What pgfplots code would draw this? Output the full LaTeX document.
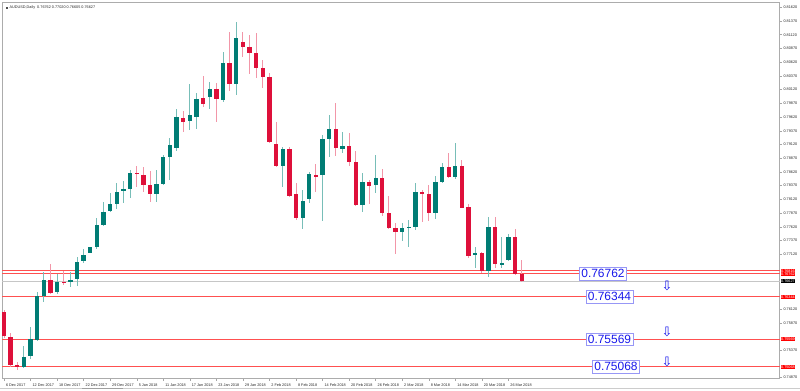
\documentclass[border=0pt]{standalone}
\usepackage{pgfplots}
\pgfplotsset{compat=1.18}
\usepackage{pgfplotstable}
\usepackage{fontspec}
\setmainfont{Liberation Sans}
\newfontfamily\dejavu{DejaVu Sans}

\definecolor{upbody}{RGB}{0,124,116}
\definecolor{dnbody}{RGB}{222,16,58}
\definecolor{upwick}{RGB}{120,190,184}
\definecolor{dnwick}{RGB}{242,150,168}
\definecolor{lvl}{RGB}{255,80,80}
\definecolor{boxblue}{RGB}{25,25,235}
\definecolor{boxedge}{RGB}{150,150,250}

\pgfplotstableread{
i o h l c
3 0.75068 0.75445 0.75039 0.75250
4 0.75263 0.75797 0.75203 0.75567
5 0.75555 0.76435 0.75542 0.76357
6 0.76357 0.76789 0.76253 0.76648
8 0.76424 0.76758 0.76393 0.76617
10 0.76606 0.76794 0.76515 0.76648
11 0.76661 0.77062 0.76539 0.76982
12 0.76995 0.77208 0.76964 0.77104
13 0.77146 0.77255 0.77135 0.77244
14 0.77244 0.77773 0.77219 0.77651
15 0.77651 0.78076 0.77633 0.77893
16 0.77912 0.78229 0.77893 0.78034
17 0.78034 0.78422 0.77937 0.78258
18 0.78271 0.78453 0.78057 0.78302
19 0.78307 0.78654 0.78138 0.78604
23 0.78211 0.78654 0.78076 0.78393
24 0.78393 0.78927 0.78380 0.78890
25 0.78890 0.79231 0.78471 0.79109
26 0.79049 0.79760 0.79000 0.79614
28 0.79547 0.80216 0.79383 0.79656
29 0.79625 0.80052 0.79401 0.79948
31 0.79990 0.80263 0.79765 0.80130
33 0.79929 0.80810 0.79888 0.80598
35 0.80216 0.81346 0.80021 0.81054
42 0.78732 0.79078 0.78338 0.79031
45 0.77773 0.78289 0.77578 0.78083
46 0.78125 0.78623 0.78047 0.78575
48 0.78562 0.79291 0.77724 0.79219
49 0.79219 0.79656 0.78885 0.79401
51 0.79036 0.79341 0.78958 0.79096
54 0.78016 0.78593 0.77893 0.78429
56 0.78380 0.78927 0.78240 0.78502
60 0.77529 0.77682 0.77365 0.77602
61 0.77596 0.77742 0.77244 0.77620
62 0.77620 0.78411 0.77560 0.78247
65 0.77864 0.78544 0.77755 0.78440
66 0.78440 0.78787 0.78411 0.78714
68 0.78531 0.79151 0.78484 0.78726
71 0.77117 0.77244 0.76862 0.77135
73 0.76818 0.77791 0.76709 0.77620
75 0.76935 0.77438 0.76862 0.76953
76 0.77013 0.77487 0.77000 0.77438
}\up

\pgfplotstableread{
i o h l c
0 0.76060 0.76102 0.75591 0.75628
1 0.75604 0.75688 0.75068 0.75099
2 0.75090 0.75159 0.75008 0.75081
7 0.76648 0.76935 0.76393 0.76406
9 0.76612 0.76818 0.76557 0.76599
20 0.78604 0.78732 0.78338 0.78593
21 0.78557 0.78714 0.78258 0.78375
22 0.78375 0.78635 0.78065 0.78211
27 0.79607 0.79729 0.79352 0.79534
30 0.79960 0.80367 0.79807 0.79851
32 0.80130 0.80234 0.79534 0.79948
34 0.80598 0.81174 0.80094 0.80216
36 0.80992 0.81163 0.80719 0.80890
37 0.80890 0.81114 0.80398 0.80781
38 0.80792 0.81145 0.80325 0.80507
39 0.80518 0.80659 0.80148 0.80343
40 0.80354 0.80416 0.79155 0.79169
41 0.79122 0.79523 0.78714 0.78732
43 0.79031 0.79067 0.78156 0.78180
44 0.78211 0.78422 0.77742 0.77773
47 0.78562 0.78757 0.78258 0.78544
50 0.79401 0.79869 0.78914 0.79049
52 0.79096 0.79322 0.78726 0.78794
53 0.78794 0.79005 0.78003 0.78016
55 0.78429 0.78471 0.78034 0.78367
57 0.78502 0.78666 0.77815 0.77864
58 0.77864 0.78180 0.77573 0.77591
59 0.77591 0.77682 0.77122 0.77518
63 0.78247 0.78289 0.77711 0.78211
64 0.78211 0.78380 0.77729 0.77864
67 0.78714 0.78958 0.78502 0.78531
69 0.78726 0.78836 0.77955 0.77966
70 0.77974 0.78034 0.77044 0.77086
72 0.77135 0.77164 0.76781 0.76818
74 0.77620 0.77802 0.76862 0.76940
77 0.77438 0.77573 0.76740 0.76758
78 0.76762 0.77020 0.76605 0.76627
}\down

\tikzset{
  bluebox/.style={draw=boxblue!45, line width=0.5bp, fill=white, text=boxblue,
    font=\fontsize{12}{12}\selectfont, inner xsep=2bp, inner ysep=2bp},
  tag/.style={anchor=west, text=white, font=\fontsize{3.8}{4}\selectfont,
    inner xsep=0.6bp, inner ysep=0.6bp, xshift=0.8bp},
  darr/.style={text=boxblue, font=\dejavu\fontsize{13}{13}\selectfont, inner sep=0pt}
}

\begin{document}
\begin{tikzpicture}
\useasboundingbox (-2bp,-12.5bp) rectangle (798bp,378.5bp);
\draw[gray!40, line width=0.8bp] (-2bp,-9.5bp) -- (798bp,-9.5bp);
\draw[gray!75, line width=0.8bp] (80bp,-9.5bp) -- (121bp,-9.5bp);
\begin{axis}[
  scale only axis, width=777.5bp, height=376.5bp,
  xmin=-0.301, xmax=116.85, ymin=0.74853, ymax=0.81716,
  clip=false,
  axis line style={gray!65, line width=0.7bp},
  tick align=outside, major tick length=2bp,
  tick style={gray!70, line width=0.4bp},
  xtick pos=lower, ytick pos=right,
  xtick={0,4,...,76},
  xticklabels={6 Dec 2017, 12 Dec 2017, 18 Dec 2017, 22 Dec 2017, 29 Dec 2017,
    5 Jan 2018, 11 Jan 2018, 17 Jan 2018, 23 Jan 2018, 29 Jan 2018,
    2 Feb 2018, 8 Feb 2018, 14 Feb 2018, 20 Feb 2018, 26 Feb 2018,
    2 Mar 2018, 8 Mar 2018, 14 Mar 2018, 20 Mar 2018, 26 Mar 2018},
  ytick={0.74870,0.75370,0.75870,0.76120,0.77120,0.77370,0.77620,0.77870,
    0.78120,0.78370,0.78620,0.78870,0.79120,0.79370,0.79620,0.79870,
    0.80120,0.80370,0.80620,0.80870,0.81120,0.81370,0.81620},
  scaled y ticks=false,
  /pgf/number format/fixed, /pgf/number format/fixed zerofill,
  /pgf/number format/precision=5, /pgf/number format/assume math mode=true,
  tick label style={font=\fontsize{3.8}{4}\selectfont, text=black!85},
  xticklabel style={anchor=north west, xshift=-1.5bp, yshift=0.3bp},
  yticklabel style={anchor=west, xshift=-1.5bp},
  candle/.style={draw=none, no markers, forget plot,
    error bars/.cd, y dir=both, y explicit, error mark=none},
]
% level lines
\addplot[lvl, line width=1.1bp, forget plot] coordinates {(-0.301,0.76816) (116.85,0.76816)};
\addplot[lvl, line width=1.1bp, forget plot] coordinates {(-0.301,0.76762) (116.85,0.76762)};
\addplot[lvl, line width=1.1bp, forget plot] coordinates {(-0.301,0.76344) (116.85,0.76344)};
\addplot[lvl, line width=1.1bp, forget plot] coordinates {(-0.301,0.75569) (116.85,0.75569)};
\addplot[lvl, line width=1.1bp, forget plot] coordinates {(-0.301,0.75068) (116.85,0.75068)};
\addplot[gray!45, line width=0.7bp, forget plot] coordinates {(-0.301,0.76627) (116.85,0.76627)};

% wicks
\addplot[candle, error bar style={draw=upwick, line width=0.9bp}]
  table[x=i, y expr={(\thisrow{h}+\thisrow{l})/2}, y error expr={(\thisrow{h}-\thisrow{l})/2}] {\up};
\addplot[candle, error bar style={draw=dnwick, line width=0.9bp}]
  table[x=i, y expr={(\thisrow{h}+\thisrow{l})/2}, y error expr={(\thisrow{h}-\thisrow{l})/2}] {\down};
% bodies
\addplot[candle, error bar style={draw=upbody, line width=4.3bp}]
  table[x=i, y expr={(\thisrow{o}+\thisrow{c})/2}, y error expr={max(abs(\thisrow{o}-\thisrow{c})/2,0.00009)}] {\up};
\addplot[candle, error bar style={draw=dnbody, line width=4.3bp}]
  table[x=i, y expr={(\thisrow{o}+\thisrow{c})/2}, y error expr={max(abs(\thisrow{o}-\thisrow{c})/2,0.00009)}] {\down};

% price tags on the right
\node[tag, fill=red] at (axis cs:116.85,0.76816) {0.76816};
\node[tag, fill=red] at (axis cs:116.85,0.76762) {0.76762};
\node[tag, fill=black] at (axis cs:116.85,0.76627) {0.76627};
\node[tag, fill=red] at (axis cs:116.85,0.76344) {0.76344};
\node[tag, fill=red] at (axis cs:116.85,0.75569) {0.75569};
\node[tag, fill=red] at (axis cs:116.85,0.75068) {0.75068};

% level boxes
\node[bluebox] at (axis cs:90.25,0.76762) {0.76762};
\node[bluebox] at (axis cs:91.23,0.76344) {0.76344};
\node[bluebox] at (axis cs:91.23,0.75569) {0.75569};
\node[bluebox] at (axis cs:92.21,0.75068) {0.75068};

% arrows
\node[darr] at (axis cs:99.9,0.76548) {⇩};
\node[darr] at (axis cs:99.9,0.75710) {⇩};
\node[darr] at (axis cs:99.9,0.75163) {⇩};

% title
\node[anchor=west, font=\fontsize{3.8}{4}\selectfont, text=black!85, inner sep=0pt]
  at (rel axis cs:0,1) [xshift=4bp, yshift=-6bp]
  {\textcolor{black!70}{\rule{2bp}{2bp}}\hspace{1.5bp}AUDUSD,Daily\ \ 0.76762 0.77020 0.76605 0.76627};
\end{axis}
\end{tikzpicture}
\end{document}
